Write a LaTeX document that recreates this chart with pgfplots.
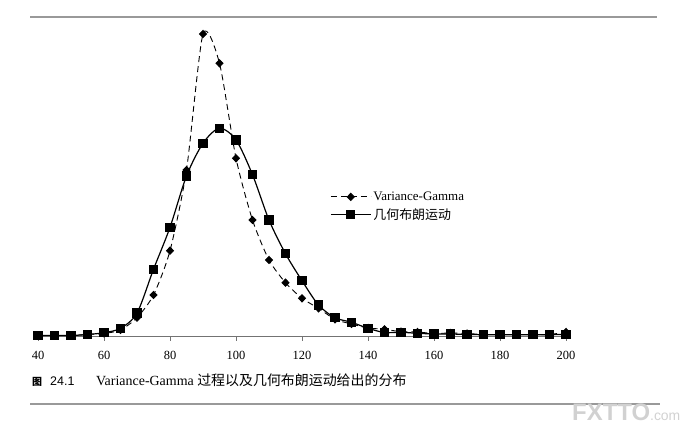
\documentclass[border=0pt]{standalone}
\usepackage{fontspec}
\setmainfont{Liberation Serif}
\setsansfont{Liberation Sans}
\newfontfamily\cjk{Noto Sans CJK SC}
\usepackage{pgfplots}
\pgfplotsset{compat=1.18}
\begin{document}
\begin{tikzpicture}[x=1bp,y=1bp]
\useasboundingbox (0,0) rectangle (688,437);
\draw[black!40, line width=2.2bp] (30,420) -- (657,420);
\draw[black!40, line width=2.2bp] (30,33) -- (660,33);
\begin{axis}[
  at={(38bp,101bp)}, anchor=south west,
  scale only axis, width=528bp, height=310bp,
  xmin=40, xmax=200, ymin=0, ymax=310,
  clip=false,
  axis x line*=bottom, axis y line=none,
  x axis line style={-, black!55, line width=0.8bp},
  xtick={40,60,...,200}, ytick=\empty,
  tick align=outside, major tick length=5bp,
  tick style={black!55, line width=0.8bp},
  /pgf/number format/assume math mode=true,
  xticklabel style={font=\fontsize{12.5}{14}\selectfont, yshift=-7bp},
  legend style={at={(rel axis cs:0.553,0.472)}, anchor=north west, draw=none, fill=none,
    inner sep=0pt, row sep=2.5bp, font=\fontsize{13}{15}\selectfont},
  legend cell align=left,
  legend image code/.code={
    \draw[mark repeat=2,mark phase=2,#1] plot coordinates {(0bp,0bp) (20bp,0bp) (40bp,0bp)};
  },
]
\addplot[black, dash pattern=on 6bp off 4bp, line width=0.9bp, smooth, tension=0.42, mark=diamond*, mark size=3.6bp, mark options={solid, fill=black, xscale=1.3}] coordinates {
(40,0.5) (45,0.5) (50,0.5) (55,1.5) (60,2.5) (65,6) (70,18.3) (75,41) (80,85.3) (85,166)
(90,302) (95,272.7) (100,177.7) (105,116) (110,76) (115,53.3) (120,37.7) (125,27.7) (130,16.7)
(135,12) (140,8) (145,6.7) (150,4.3) (155,4) (160,2.5) (165,3) (170,2.5) (175,1.5) (180,1.5)
(185,1.5) (190,1.5) (195,1.5) (200,4)
};
\addlegendentry{Variance-Gamma}
\addplot[black, line width=1.2bp, smooth, tension=0.5, mark=square*, mark size=4bp, mark options={solid, fill=black}] coordinates {
(40,0.5) (45,0.5) (50,0.5) (55,1.5) (60,3.3) (65,7.7) (70,23) (75,66.7) (80,108.7) (85,160)
(90,192.7) (95,207.7) (100,196) (105,161.3) (110,116) (115,82.3) (120,55.3) (125,31) (130,18.3)
(135,13.7) (140,7.7) (145,3.5) (150,3.7) (155,2.7) (160,2) (165,2) (170,1.5) (175,1.3) (180,1.3)
(185,1.3) (190,1.3) (195,1.3) (200,1.5)
};
\addlegendentry{{\cjk 几何布朗运动}}
\end{axis}
\node[anchor=base west, inner sep=0pt, font=\fontsize{10}{12}\selectfont] at (32,51) {\cjk\bfseries 图};
\node[anchor=base west, inner sep=0pt, font=\fontsize{12.5}{14}\selectfont\sffamily] at (50,51) {24.1};
\node[anchor=base west, inner sep=0pt, font=\fontsize{14}{16}\selectfont] at (96,51) {Variance-Gamma {\cjk 过程以及几何布朗运动给出的分布}};
\node[anchor=base west, inner sep=0pt, text=black!18] at (572,16) {\sffamily\bfseries\fontsize{24}{24}\selectfont FXTTO\fontsize{14}{14}\mdseries\selectfont.com};
\end{tikzpicture}
\end{document}
